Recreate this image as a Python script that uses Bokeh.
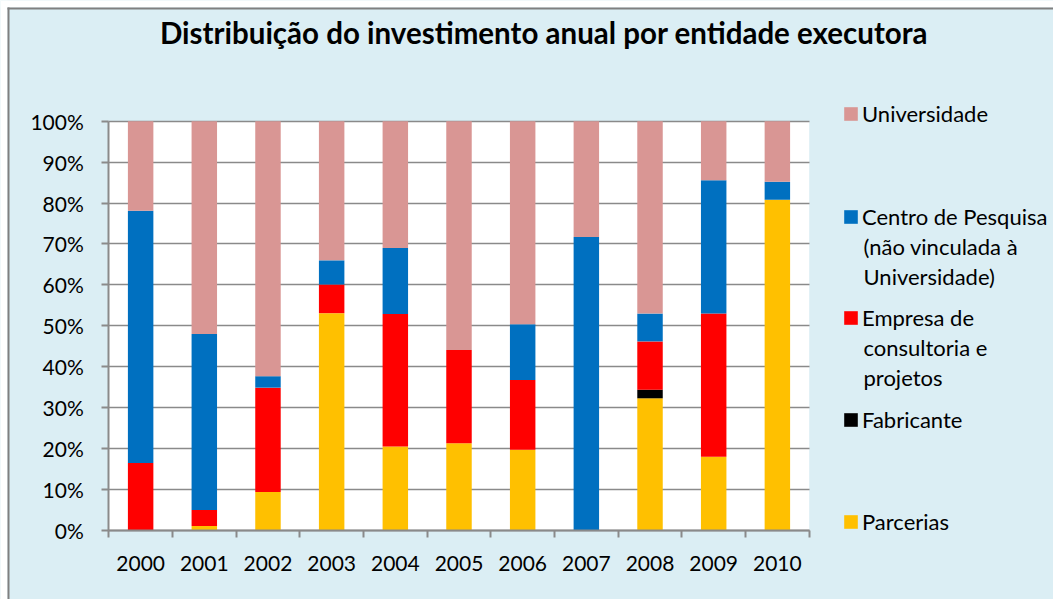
from bokeh.plotting import figure
from bokeh.models import (ColumnDataSource, FixedTicker, NumeralTickFormatter,
                          Label, Legend, LegendItem, BoxAnnotation, Grid)
from bokeh.embed import file_html
from bokeh.resources import INLINE

years = ["2000", "2001", "2002", "2003", "2004", "2005", "2006", "2007", "2008", "2009", "2010"]
parcerias = [0.0, 1.1, 9.4, 53.1, 20.5, 21.3, 19.7, 0.0, 32.3, 18.0, 80.8]
fabricante = [0.0, 0.0, 0.0, 0.0, 0.0, 0.0, 0.0, 0.0, 2.1, 0.0, 0.0]
empresa = [16.5, 3.9, 25.5, 7.0, 32.4, 22.8, 17.1, 0.0, 11.8, 35.0, 0.0]
centro = [61.6, 43.0, 2.8, 5.9, 16.1, 0.0, 13.6, 71.7, 6.8, 32.6, 4.4]
universidade = [21.9, 52.0, 62.3, 34.0, 31.0, 55.9, 49.6, 28.3, 47.0, 14.4, 14.8]
y_ticks = [0.0, 0.1, 0.2, 0.3, 0.4, 0.5, 0.6, 0.7, 0.8, 0.9, 1.0]

series = ["Parcerias", "Fabricante", "Empresa", "Centro", "Universidade"]
colors = ["#FFC000", "#000000", "#FF0000", "#0070C0", "#D99694"]
legend_lines = {
    "Universidade": ["Universidade"],
    "Centro": ["Centro de Pesquisa", "(não vinculada à", "Universidade)"],
    "Empresa": ["Empresa de", "consultoria e", "projetos"],
    "Fabricante": ["Fabricante"],
    "Parcerias": ["Parcerias"],
}

xs = list(range(len(years)))
data = {"x": xs}
for name, vals in zip(series, [parcerias, fabricante, empresa, centro, universidade]):
    data[name] = [v / 100.0 for v in vals]
source = ColumnDataSource(data)

# ---- layout (pixels) ----
W, H = 1053, 599
PL, PR, PT, PB = 108.3, 808.7, 120.7, 530.0   # plot area in page pixels
BG = "#DBEEF4"
FONT = "Lato"
GRAY = "#8A8A8A"

n = len(years)
xpp = (PR - PL) / n
x0 = -0.5 - PL / xpp
x1 = n - 0.5 + (W - PR) / xpp
ypp = (PB - PT) / 1.0
y0 = -(H - PB) / ypp
y1 = 1.0 + PT / ypp

p = figure(width=W, height=H, output_backend="svg", toolbar_location=None, title=None,
           x_range=(x0, x1), y_range=(y0, y1), min_border=0)
p.border_fill_color = BG
p.background_fill_color = BG
p.outline_line_color = None

# white plot area
p.add_layout(BoxAnnotation(left=-0.5, right=n - 0.5, bottom=0, top=1, fill_color="white",
                           fill_alpha=1, line_color=None, level="image"))

renderers = p.vbar_stack(series, x="x", width=0.4, source=source, color=colors, line_color=None)

# axes placed at the plot-area edges
p.xaxis.fixed_location = 0
p.xaxis.bounds = (-0.5, n - 0.5)
p.xaxis.ticker = FixedTicker(ticks=xs, minor_ticks=[i - 0.5 for i in range(n + 1)])
p.xaxis.major_label_overrides = {i: y for i, y in enumerate(years)}
p.xaxis.major_tick_out = 0
p.xaxis.major_tick_in = 0
p.xaxis.minor_tick_out = 7
p.xaxis.minor_tick_in = 0
p.xaxis.minor_tick_line_color = GRAY
p.xaxis.minor_tick_line_width = 2
p.xaxis.axis_line_color = GRAY
p.xaxis.axis_line_width = 2
p.xaxis.major_label_standoff = 18
p.xaxis.major_label_text_font = FONT
p.xaxis.major_label_text_font_size = "21px"
p.xaxis.major_label_text_color = "black"

p.yaxis.fixed_location = -0.5
p.yaxis.bounds = (0, 1)
p.yaxis.ticker = FixedTicker(ticks=y_ticks)
p.yaxis.formatter = NumeralTickFormatter(format="0%")
p.yaxis.major_tick_out = 7
p.yaxis.major_tick_in = 0
p.yaxis.minor_tick_out = 0
p.yaxis.minor_tick_in = 0
p.yaxis.major_tick_line_color = GRAY
p.yaxis.major_tick_line_width = 2
p.yaxis.axis_line_color = GRAY
p.yaxis.axis_line_width = 2
p.yaxis.major_label_standoff = 18
p.yaxis.major_label_text_font = FONT
p.yaxis.major_label_text_font_size = "21px"
p.yaxis.major_label_text_color = "black"

p.xgrid.grid_line_color = None
p.ygrid.ticker = FixedTicker(ticks=y_ticks)
p.ygrid.grid_line_color = GRAY
p.ygrid.grid_line_width = 1.3
p.ygrid.bounds = (0, 1)
if "cross_bounds" in Grid.properties():
    p.ygrid.cross_bounds = (-0.5, n - 0.5)
else:
    p.ygrid.grid_line_color = None
    p.segment(x0=[-0.5] * len(y_ticks), x1=[n - 0.5] * len(y_ticks), y0=y_ticks, y1=y_ticks,
              line_color=GRAY, line_width=1.3, level="underlay")

# outer chart-area border (white page margin + gray frame line)
def screen_box(l, r, b, t, color):
    return BoxAnnotation(left=l, right=r, bottom=b, top=t, left_units="screen", right_units="screen",
                         bottom_units="screen", top_units="screen", fill_color=color, fill_alpha=1,
                         line_color=None, level="overlay")

p.add_layout(screen_box(0, 7, 0, H, "white"))
p.add_layout(screen_box(0, W, H - 7, H, "white"))
p.add_layout(screen_box(7, 9, 0, H - 7, "#808080"))
p.add_layout(screen_box(7, W, H - 9, H - 7, "#808080"))

# title
p.add_layout(Label(x=543.5, y=H - 32, x_units="screen", y_units="screen",
                   text="Distribuição do investimento anual por entidade executora",
                   text_font=FONT, text_font_style="bold", text_font_size="29.5px",
                   text_align="center", text_baseline="middle", text_color="black"))

# legend: one swatch legend per series, continuation lines as labels
centers = {"Universidade": 114, "Centro": 216.7, "Empresa": 317.5, "Fabricante": 419.7, "Parcerias": 521.7}
line_gap = 29.5
LH = 26
for name, r in zip(series, renderers):
    cy = centers[name]
    lines = legend_lines[name]
    leg = Legend(items=[LegendItem(label=lines[0], renderers=[r])],
                 location=(842, H - cy - LH / 2),
                 glyph_width=17, glyph_height=17, label_height=LH, label_standoff=3,
                 padding=0, margin=0, spacing=0,
                 border_line_color=None, background_fill_alpha=0,
                 label_text_font=FONT, label_text_font_size="22px", label_text_color="black")
    p.add_layout(leg)
    for k, txt in enumerate(lines[1:], start=1):
        p.add_layout(Label(x=863, y=H - (cy + k * line_gap), x_units="screen", y_units="screen",
                           text=txt, text_font=FONT, text_font_size="22px", text_color="black",
                           text_align="left", text_baseline="middle"))

open("out.html", "w").write(file_html(p, INLINE))
